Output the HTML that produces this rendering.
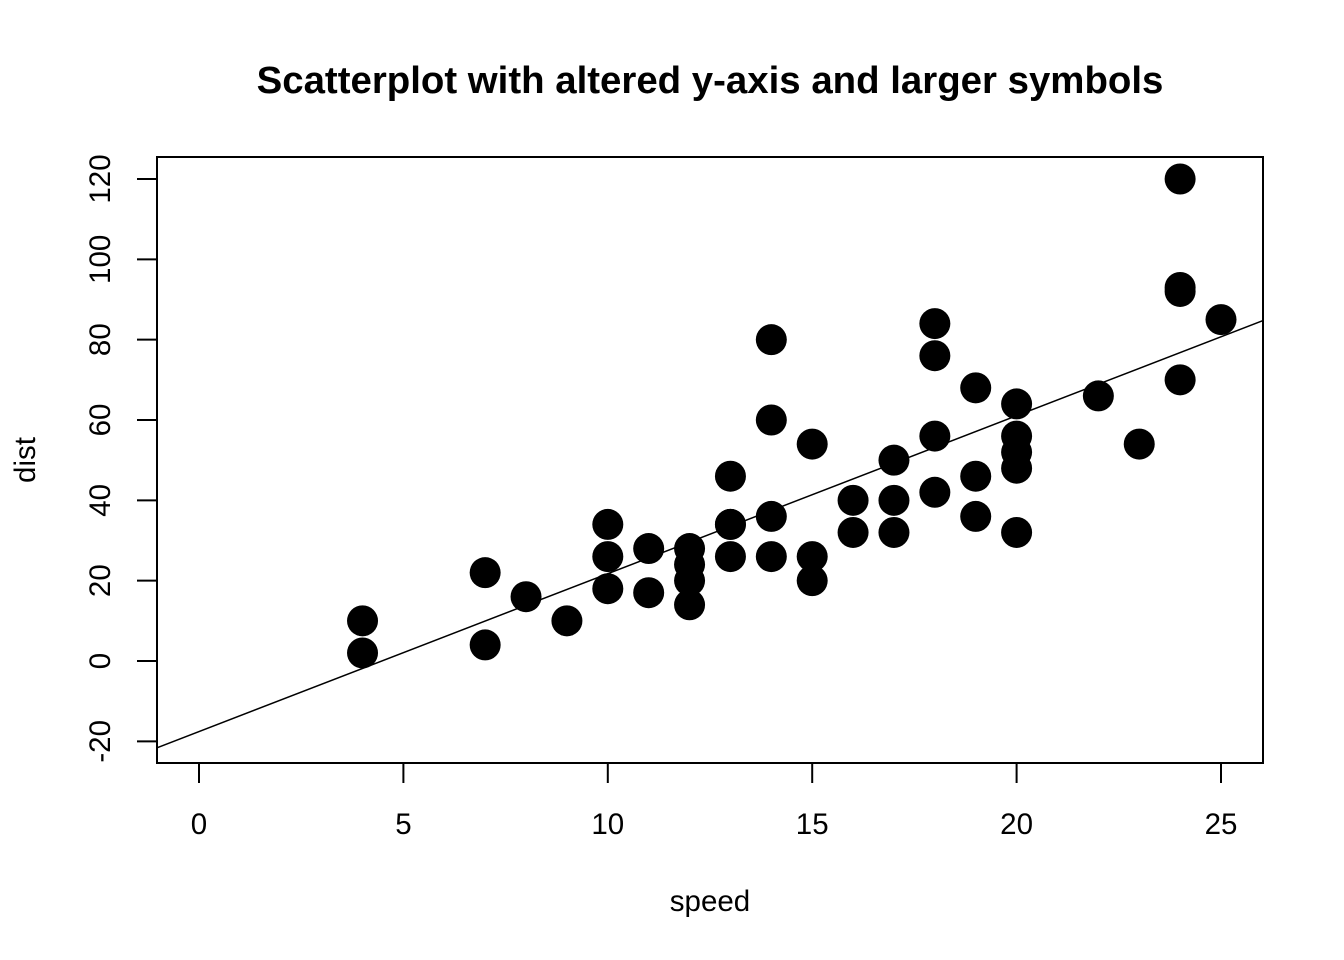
<!DOCTYPE html>
<html><head><meta charset="utf-8"><style>body{margin:0;background:#fff}svg{display:block;font-family:"Liberation Sans",Arial,sans-serif}</style></head>
<body>
<svg id="chart" width="1344" height="960" viewBox="0 0 1344 960">
<text x="710" y="93" text-anchor="middle" font-size="38.4" font-weight="bold">Scatterplot with altered y-axis and larger symbols</text>
<rect x="157" y="157" width="1106" height="606" fill="none" stroke="#000" stroke-width="2"/>
<text x="710" y="911" text-anchor="middle" font-size="29.5">speed</text>
<text transform="translate(35,460) rotate(-90)" text-anchor="middle" font-size="29.5">dist</text>
<g id="marks"></g>
</svg>
<script>
const speeds=[4,4,7,7,8,9,10,10,10,11,11,12,12,12,12,13,13,13,13,14,14,14,14,15,15,15,16,16,17,17,17,18,18,18,18,19,19,19,20,20,20,20,20,22,23,24,24,24,24,25];
const dists=[2,10,4,22,16,10,18,26,34,17,28,14,20,24,28,26,34,34,46,26,36,60,80,20,26,54,32,40,32,40,50,42,56,76,84,36,46,68,32,48,52,56,64,66,54,70,92,93,120,85];
const xTicks=[0,5,10,15,20,25];
const yTicks=[-20,0,20,40,60,80,100,120];
const fitCoef=[-17.579,3.932];
const ns="http://www.w3.org/2000/svg";
const L=157,R=1263,T=157,B=763;
const sx=v=>199+v*(1221-199)/25;
const sy=v=>661-v*(661-179)/120;
const g=document.getElementById('marks');
function mk(t,a){const e=document.createElementNS(ns,t);for(const k in a)e.setAttribute(k,a[k]);g.appendChild(e);return e;}
xTicks.forEach(v=>{
  const l=mk('line',{x1:sx(v),x2:sx(v),y1:B,y2:B+20,stroke:'#000','stroke-width':2});
  
  
  const t=mk('text',{x:sx(v),y:834,'text-anchor':'middle','font-size':29.5});
  t.textContent=v;
  
  
});
yTicks.forEach(v=>{
  const l=mk('line',{x1:L,x2:L-20,y1:sy(v),y2:sy(v),stroke:'#000','stroke-width':2});
  
  
  const t=mk('text',{transform:`translate(110,${sy(v)}) rotate(-90)`,'text-anchor':'middle','font-size':29.5});
  t.textContent=v;
  
  
});
speeds.forEach((s,i)=>{
  const c=mk('circle',{cx:sx(s),cy:sy(dists[i]),r:15.5,fill:'#000'});
  
  
});
const ln=mk('line',{x1:L,y1:sy(fitCoef[0]+fitCoef[1]*((L-199)/(1022/25))),x2:R,y2:sy(fitCoef[0]+fitCoef[1]*((R-199)/(1022/25))),stroke:'#000','stroke-width':1.5});


</script>
</body></html>
